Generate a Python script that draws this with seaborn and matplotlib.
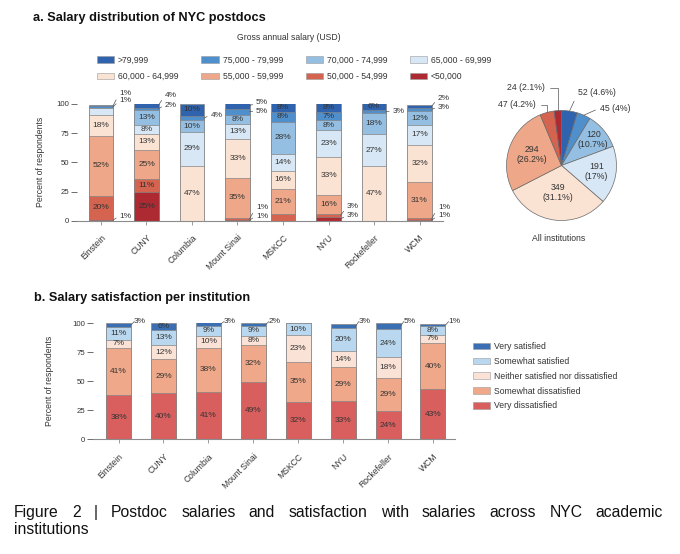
import numpy as np
import matplotlib
matplotlib.use("Agg")
import matplotlib.pyplot as plt
from matplotlib.patches import Patch
import seaborn as sns

# ---------------- data ----------------
institutions = ["Einstein", "CUNY", "Columbia", "Mount Sinai", "MSKCC", "NYU", "Rockefeller", "WCM"]

# salary bands, bottom of stack -> top of stack
salary_bands = ["<50,000", "50,000 - 54,999", "55,000 - 59,999", "60,000 - 64,999",
                "65,000 - 69,999", "70,000 - 74,999", "75,000 - 79,999", ">79,999"]
sal_lt50   = [1, 25, 0, 1, 0, 3, 0, 1]
sal_50_55  = [20, 11, 0, 1, 6, 3, 0, 1]
sal_55_60  = [52, 25, 0, 35, 21, 16, 0, 31]
sal_60_65  = [18, 13, 47, 33, 16, 33, 47, 32]
sal_65_70  = [6, 8, 29, 13, 14, 23, 27, 17]
sal_70_75  = [0, 13, 10, 8, 28, 8, 18, 12]
sal_75_80  = [1, 2, 4, 5, 8, 7, 3, 3]
sal_gt80   = [1, 4, 10, 5, 8, 8, 6, 2]
salary_values = [sal_lt50, sal_50_55, sal_55_60, sal_60_65, sal_65_70, sal_70_75, sal_75_80, sal_gt80]

# pie: all institutions, counts from ">79,999" clockwise to "<50,000"
pie_bands = [">79,999", "75,000 - 79,999", "70,000 - 74,999", "65,000 - 69,999",
             "60,000 - 64,999", "55,000 - 59,999", "50,000 - 54,999", "<50,000"]
pie_counts = [52, 45, 120, 191, 349, 294, 47, 24]

# satisfaction levels, bottom of stack -> top of stack
sat_levels = ["Very dissatisfied", "Somewhat dissatisfied", "Neither satisfied nor dissatisfied",
              "Somewhat satisfied", "Very satisfied"]
sat_very_dis = [38, 40, 41, 49, 32, 33, 24, 43]
sat_some_dis = [41, 29, 38, 32, 35, 29, 29, 40]
sat_neither  = [7, 12, 10, 8, 23, 14, 18, 7]
sat_some_sat = [11, 13, 9, 9, 10, 20, 24, 8]
sat_very_sat = [3, 6, 3, 2, 0, 3, 5, 1]
sat_values = [sat_very_dis, sat_some_dis, sat_neither, sat_some_sat, sat_very_sat]

caption_line1 = "Figure 2 | Postdoc salaries and satisfaction with salaries across NYC academic"
caption_line2 = "institutions"

# ---------------- styles ----------------
salary_colors = {"<50,000": "#ad2a33", "50,000 - 54,999": "#d4634f", "55,000 - 59,999": "#eea889",
                 "60,000 - 64,999": "#fbe3d4", "65,000 - 69,999": "#d8e7f5", "70,000 - 74,999": "#95bfe2",
                 "75,000 - 79,999": "#4f8fcc", ">79,999": "#2f63ae"}
sat_colors = {"Very dissatisfied": "#d95f5f", "Somewhat dissatisfied": "#efa98a",
              "Neither satisfied nor dissatisfied": "#fbe2d6", "Somewhat satisfied": "#b9d8ef",
              "Very satisfied": "#3a6fb4"}
EDGE = "#858585"
TXT = "#333333"

# labels of small segments placed outside: (institution, band) -> label height (%)
salary_callouts = {
    ("Einstein", "<50,000"): 4, ("Einstein", "75,000 - 79,999"): 103, ("Einstein", ">79,999"): 109,
    ("CUNY", "75,000 - 79,999"): 99, ("CUNY", ">79,999"): 107.5,
    ("Columbia", "75,000 - 79,999"): 90.5,
    ("Mount Sinai", "<50,000"): 4, ("Mount Sinai", "50,000 - 54,999"): 11.5,
    ("Mount Sinai", "75,000 - 79,999"): 93.5, ("Mount Sinai", ">79,999"): 101,
    ("NYU", "<50,000"): 4.5, ("NYU", "50,000 - 54,999"): 11.8,
    ("Rockefeller", "75,000 - 79,999"): 94,
    ("WCM", "<50,000"): 4.2, ("WCM", "50,000 - 54,999"): 11.3,
    ("WCM", "75,000 - 79,999"): 97.2, ("WCM", ">79,999"): 104.8,
}
salary_unlabeled = {("Einstein", "65,000 - 69,999"), ("MSKCC", "50,000 - 54,999")}
sat_callouts = {(inst, "Very satisfied"): 101.5 for inst in
                ["Einstein", "Columbia", "Mount Sinai", "NYU", "Rockefeller", "WCM"]}

sns.set_theme(style="ticks")
plt.rcParams["font.family"] = ["Liberation Sans", "DejaVu Sans"]

W, H = 680, 554
fig = plt.figure(figsize=(W / 100, H / 100), dpi=100)


def fx(px):
    return px / W


def fy(py):
    return 1 - py / H


def stacked(ax, values, bands, colors, width, callouts, unlabeled, dx):
    arr = np.array(values, dtype=float)
    cum = np.cumsum(arr, axis=0)
    for k in range(len(bands) - 1, -1, -1):
        sns.barplot(x=institutions, y=cum[k], order=institutions, color=colors[bands[k]],
                    width=width, saturation=1, edgecolor=EDGE, linewidth=0.5,
                    errorbar=None, ax=ax)
    for k, band in enumerate(bands):
        for i, inst in enumerate(institutions):
            v = arr[k, i]
            if v <= 0:
                continue
            base = cum[k, i] - v
            if (inst, band) in callouts:
                ty = callouts[(inst, band)]
                ax.annotate(f"{int(v)}%", xy=(i + width / 2, base + v / 2),
                            xytext=(i + width / 2 + dx, ty), fontsize=6.0, color=TXT,
                            ha="left", va="center",
                            arrowprops=dict(arrowstyle="-", color="#555555", lw=0.5,
                                            shrinkA=0, shrinkB=0, relpos=(0, 0.5)))
            elif v >= 6 and (inst, band) not in unlabeled:
                ax.text(i, base + v / 2, f"{int(v)}%", ha="center", va="center",
                        fontsize=6.0, color=TXT)


def style_axis(ax, xlim, ylabel_x):
    ax.set_xlim(*xlim)
    ax.set_ylim(0, 100)
    for s in ["top", "right", "left"]:
        ax.spines[s].set_visible(False)
    ax.spines["bottom"].set_color("#8c8c8c")
    ax.spines["bottom"].set_linewidth(0.8)
    ax.set_yticks([0, 25, 50, 75, 100])
    ax.tick_params(axis="y", left=True, length=4.5, width=0.6, color="#555555",
                   labelsize=5.6, labelcolor=TXT, pad=1)
    ax.set_xticks(range(len(institutions)))
    ax.set_xticklabels(institutions, rotation=45, ha="right", rotation_mode="anchor")
    ax.tick_params(axis="x", bottom=True, length=3, width=0.6, color="#8c8c8c",
                   labelsize=6.2, labelcolor=TXT, pad=6)
    ax.set_xlabel("")
    ax.set_ylabel("Percent of respondents", fontsize=6.2, color=TXT)
    ax.yaxis.set_label_coords(ylabel_x, 0.5)
    ax.set_facecolor("none")


# ---------------- panel a: bars ----------------
ax1 = fig.add_axes([fx(77), fy(220.7), fx(443) - fx(77), (220.7 - 104) / H])
stacked(ax1, salary_values, salary_bands, salary_colors, 0.53, salary_callouts, salary_unlabeled, 0.14)
style_axis(ax1, (-0.527, 7.516), -0.087)

fig.text(fx(33), fy(21), "a. Salary distribution of NYC postdocs", fontsize=9.2,
         fontweight="bold", ha="left", va="baseline", color="#111111")
fig.text(fx(288.5), fy(38), "Gross annual salary (USD)", fontsize=6.2, ha="center",
         va="center", color=TXT)

legend_rows = [[">79,999", "75,000 - 79,999", "70,000 - 74,999", "65,000 - 69,999"],
               ["60,000 - 64,999", "55,000 - 59,999", "50,000 - 54,999", "<50,000"]]
order = [legend_rows[r][c] for c in range(4) for r in range(2)]
handles = [Patch(facecolor=salary_colors[b], edgecolor="#9a9a9a", linewidth=0.4) for b in order]
fig.legend(handles, order, ncol=4, loc="upper left", bbox_to_anchor=(fx(97), fy(55.5)),
           frameon=False, fontsize=6.2, handlelength=2.0, handleheight=0.8,
           handletextpad=0.45, columnspacing=2.65, labelspacing=0.85, borderpad=0,
           borderaxespad=0, labelcolor=TXT)

# ---------------- panel a: pie ----------------
cx, cy, R = 561.5, 165.5, 55
axp = fig.add_axes([fx(cx - R), fy(cy + R), 2 * R / W, 2 * R / H])
wedges, _ = axp.pie(pie_counts, colors=[salary_colors[b] for b in pie_bands], startangle=90,
                    counterclock=False, wedgeprops=dict(edgecolor="#6a6a6a", linewidth=0.5))
axp.set_xlim(-1, 1)
axp.set_ylim(-1, 1)
total = sum(pie_counts)


def pct_text(c):
    return f"{100 * c / total:.1f}".rstrip("0").rstrip(".")


inner_r = {"70,000 - 74,999": 0.75, "65,000 - 69,999": 0.65,
           "60,000 - 64,999": 0.5, "55,000 - 59,999": 0.58}
outer = {">79,999": (0.30, 1.32, "left", "arc3"),
         "75,000 - 79,999": (0.70, 1.045, "left", "arc3"),
         "<50,000": (-0.30, 1.41, "right", "angle,angleA=0,angleB=90,rad=0"),
         "50,000 - 54,999": (-0.46, 1.10, "right", "angle,angleA=0,angleB=90,rad=0")}
for w, band, c in zip(wedges, pie_bands, pie_counts):
    mid = np.deg2rad((w.theta1 + w.theta2) / 2)
    if band in inner_r:
        r = inner_r[band]
        axp.text(r * np.cos(mid), r * np.sin(mid), f"{c}\n({pct_text(c)}%)", ha="center",
                 va="center", fontsize=6.3, color=TXT, linespacing=1.15)
    else:
        tx, ty, ha, cs = outer[band]
        axp.annotate(f"{c} ({pct_text(c)}%)", xy=(np.cos(mid), np.sin(mid)), xytext=(tx, ty),
                     ha=ha, va="center", fontsize=6.3, color=TXT,
                     arrowprops=dict(arrowstyle="-", color="#555555", lw=0.5, shrinkA=1,
                                     shrinkB=0, connectionstyle=cs,
                                     relpos=(0, 0.5) if ha == "left" else (1, 0.5)))
axp.text(-0.06, -1.32, "All institutions", ha="center", va="center", fontsize=6.2, color=TXT)

# ---------------- panel b ----------------
ax2 = fig.add_axes([fx(93), fy(439.3), fx(455) - fx(93), (439.3 - 323.3) / H])
stacked(ax2, sat_values, sat_levels, sat_colors, 0.556, sat_callouts, set(), 0.07)
style_axis(ax2, (-0.568, 7.49), -0.108)

fig.text(fx(34), fy(300.7), "b. Salary satisfaction per institution", fontsize=9.2,
         fontweight="bold", ha="left", va="baseline", color="#111111")

sat_leg = sat_levels[::-1]
handles2 = [Patch(facecolor=sat_colors[s], edgecolor="#9a9a9a", linewidth=0.4) for s in sat_leg]
fig.legend(handles2, sat_leg, ncol=1, loc="upper left", bbox_to_anchor=(fx(473), fy(342)),
           frameon=False, fontsize=6.2, handlelength=2.0, handleheight=0.8,
           handletextpad=0.45, labelspacing=0.68, borderpad=0, borderaxespad=0,
           labelcolor=TXT)

# ---------------- caption (justified first line) ----------------
cap_words = caption_line1.split()
renderer = fig.canvas.get_renderer()
texts = [fig.text(0, fy(516.7), wd, fontsize=11.3, ha="left", va="baseline", color="#111111")
         for wd in cap_words]
widths = [t.get_window_extent(renderer).width for t in texts]
x0, x1 = 14, 663
gap = ((x1 - x0) - sum(widths)) / (len(cap_words) - 1)
xpos = x0
for t, wdt in zip(texts, widths):
    t.set_x(fx(xpos))
    xpos += wdt + gap
fig.text(fx(14), fy(534.5), caption_line2, fontsize=11.3, ha="left", va="baseline",
         color="#111111")

fig.savefig("out.png", dpi=100, facecolor="white")
